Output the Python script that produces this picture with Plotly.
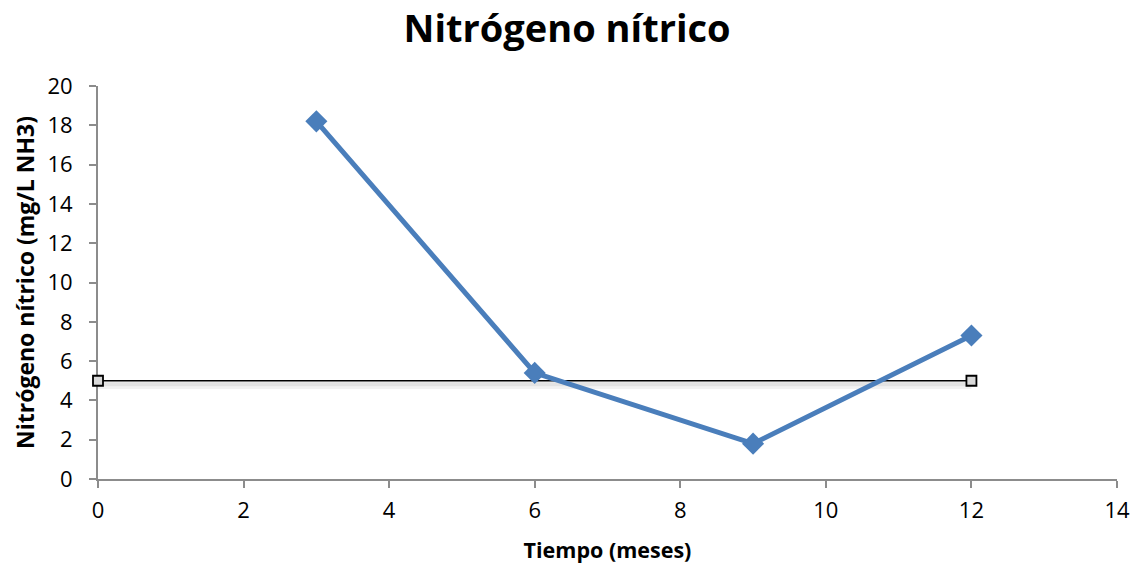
import plotly.graph_objects as go

months = [3, 6, 9, 12]
nitrate = [18.2, 5.4, 1.8, 7.3]
limit_x = [0, 12]
limit_y = [5, 5]

fig = go.Figure()
# soft shadow of the limit line
for off, alpha, w in [(0.22, 0.05, 8), (0.18, 0.06, 4)]:
    fig.add_trace(go.Scatter(x=limit_x, y=[v - off for v in limit_y], mode="lines",
                             line=dict(color=f"rgba(0,0,0,{alpha})", width=w),
                             hoverinfo="skip", showlegend=False))
fig.add_trace(go.Scatter(x=limit_x, y=limit_y, mode="lines+markers",
                         line=dict(color="black", width=1.5),
                         marker=dict(symbol="square", size=10, color="#d9d9d9",
                                     line=dict(color="black", width=1.8)),
                         cliponaxis=False, showlegend=False))
fig.add_trace(go.Scatter(x=months, y=nitrate, mode="lines+markers",
                         line=dict(color="#4a7ebb", width=5),
                         marker=dict(symbol="diamond", size=17, color="#4a7ebb"),
                         cliponaxis=False, showlegend=False))

font_family = "Open Sans, Liberation Sans, sans-serif"
fig.update_layout(
    width=1141, height=571,
    margin=dict(l=98, r=24, t=86, b=92),
    paper_bgcolor="white", plot_bgcolor="white",
    font=dict(family=font_family, color="black"),
    title=dict(text="<b>Nitrógeno nítrico</b>", x=0.497, xanchor="center",
               y=0.950, yanchor="middle", font=dict(size=38, family=font_family)),
    xaxis=dict(range=[0, 14], tick0=0, dtick=2, showgrid=False, zeroline=False,
               showline=True, linecolor="#8c8c8c", linewidth=2, layer="below traces",
               ticks="outside", ticklen=7, tickcolor="#8c8c8c", tickwidth=2,
               tickfont=dict(size=22), ticklabelstandoff=4,
               title=dict(text="<b>Tiempo (meses)</b>", font=dict(size=21.5), standoff=20)),
    yaxis=dict(range=[0, 20], tick0=0, dtick=2, showgrid=False, zeroline=False,
               showline=True, linecolor="#8c8c8c", linewidth=2, layer="below traces",
               ticks="outside", ticklen=7, tickcolor="#8c8c8c", tickwidth=2,
               tickfont=dict(size=22), ticklabelstandoff=12,
               title=dict(text="<b>Nitrógeno nítrico (mg/L NH3)</b>", font=dict(size=23), standoff=6)),
)

fig.write_html("out.html")
